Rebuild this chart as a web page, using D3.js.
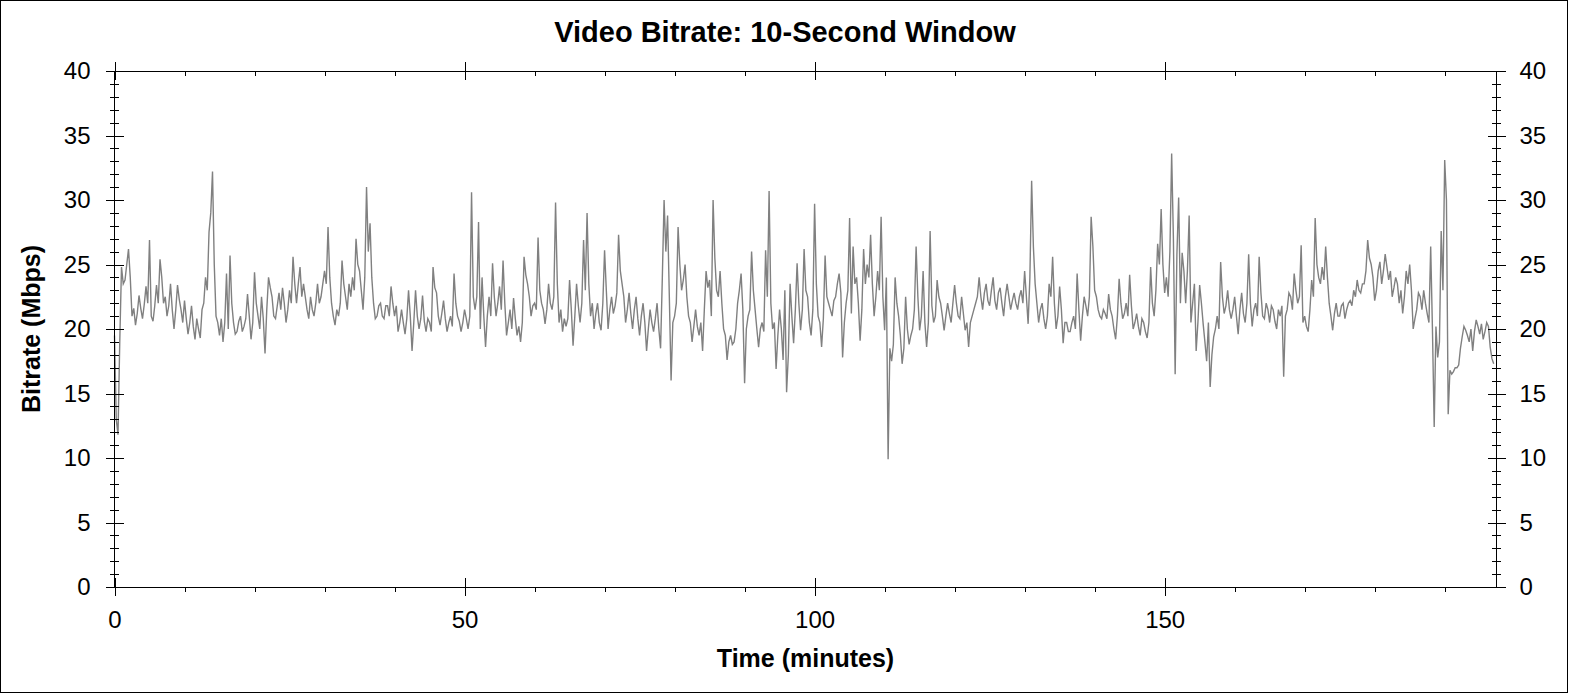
<!DOCTYPE html>
<html>
<head>
<meta charset="utf-8">
<script src="https://cdn.jsdelivr.net/npm/d3@7"></script>
<style>
html,body{margin:0;padding:0;background:#fff;}
svg{display:block;}
text{font-family:"Liberation Sans",Arial,sans-serif;fill:#000;}
</style>
</head>
<body>
<svg id="chart" width="1570" height="695"></svg>
<script>
// ---- data ----
const chartTitle = "Video Bitrate: 10-Second Window";
const xTitle = "Time (minutes)";
const yTitle = "Bitrate (Mbps)";
const sampleStartMin = 0;
const sampleStepMin = 0.5;
// bitrate at t = 0, 0.5, 1.0, ... minutes
const bitrateMbps = [
19.5,11.8,24.8,23.8,26.2,21.0,20.3,22.6,20.8,23.3,
26.9,20.6,23.4,25.4,22.0,21.0,23.5,20.0,23.4,21.5,
22.2,19.6,21.8,19.2,20.0,21.5,24.0,27.5,32.2,21.0,
19.5,19.0,24.3,25.7,20.5,19.8,21.0,20.2,22.7,19.2,
24.4,21.0,22.5,18.1,24.0,22.5,20.8,22.8,23.2,20.5,
23.0,25.6,22.0,24.8,23.5,21.5,22.5,21.0,23.5,22.5,
24.5,27.9,22.0,20.3,21.0,25.3,22.5,23.5,24.0,27.0,
24.5,21.5,31.0,28.2,22.0,21.0,22.0,20.8,21.8,23.3,
21.0,19.8,21.5,19.6,23.0,18.3,23.0,20.0,22.6,19.8,
20.5,24.8,22.8,20.3,22.2,19.8,21.0,24.3,21.0,19.8,
21.5,20.0,30.6,21.5,28.3,24.0,18.6,22.5,25.1,21.0,
23.3,25.3,19.5,21.5,22.4,19.5,19.0,25.6,23.5,21.0,
22.0,27.1,22.0,20.4,23.5,21.5,29.8,20.5,19.8,20.2,
23.8,18.7,23.5,20.5,26.9,29.0,21.0,20.0,22.0,19.9,
26.1,20.0,22.5,21.8,27.3,23.5,20.5,22.8,20.0,22.5,
19.5,22.0,18.3,21.5,19.8,22.0,18.5,30.0,28.8,16.0,
21.0,27.9,23.0,25.0,21.0,19.0,21.5,19.5,18.3,24.5,
23.8,30.0,23.0,24.5,20.0,17.6,19.5,19.0,22.0,24.3,
15.8,21.0,26.0,21.5,18.6,20.5,26.1,30.7,20.0,16.9,
21.5,17.6,15.1,23.5,18.9,25.1,19.9,26.2,22.5,19.5,
29.7,21.0,18.6,25.7,22.0,21.0,22.5,24.3,17.8,22.0,
28.6,26.4,24.0,19.1,26.2,25.0,27.3,21.0,24.5,28.7,
19.9,9.9,17.5,24.0,21.0,17.3,22.5,18.8,20.0,26.4,
19.9,24.5,18.6,27.6,20.5,23.8,22.0,19.9,22.0,20.5,
23.4,21.0,22.5,19.9,18.6,21.0,22.0,24.0,21.5,23.5,
21.8,24.0,21.5,23.2,21.0,23.5,21.5,22.8,21.5,23.0,
24.5,20.4,31.5,23.5,20.5,22.0,20.0,23.5,25.6,20.0,
23.3,18.9,20.5,19.8,21.0,24.3,19.1,22.5,21.0,28.7,
23.0,21.5,20.8,21.2,22.7,21.0,19.2,23.9,20.8,22.0,
24.2,20.0,21.2,19.5,20.5,19.3,24.8,21.0,26.6,29.3,
22.8,22.5,33.6,16.5,30.2,25.9,22.0,28.8,22.0,18.3,
23.4,20.4,17.5,15.5,19.4,21.0,25.2,21.2,23.0,20.8,
22.5,19.6,22.8,20.5,25.8,20.2,22.0,25.6,21.0,22.0,
20.5,21.5,20.0,21.0,16.3,21.5,22.5,24.3,22.0,26.5,
21.0,19.8,23.8,28.6,24.0,24.8,26.4,22.0,19.9,22.0,
21.0,22.0,21.5,22.2,23.0,23.8,22.8,23.5,26.9,25.0,
22.2,24.5,23.5,25.8,23.8,22.5,24.0,22.0,21.2,24.5,
25.0,20.0,21.5,22.5,23.0,21.2,26.4,12.4,17.8,27.6,
33.1,13.4,16.5,17.0,17.2,19.4,19.9,19.0,18.3,20.7,
19.6,19.2,20.5,18.6,17.3
];
// bitrate at the in-between samples t = 0.25, 0.75, 1.25, ... minutes
const bitrateMidMbps = [
13.0,19.0,23.5,25.0,24.0,21.6,21.2,21.6,21.9,22.0,
21.0,21.8,22.0,24.0,22.5,21.8,21.5,21.5,22.3,20.5,
20.8,20.5,20.2,20.8,19.3,22.0,23.0,29.0,25.0,20.5,
20.8,20.5,20.0,22.0,19.6,20.6,19.8,20.8,21.0,20.5,
22.0,20.0,20.8,21.5,23.2,21.0,21.8,21.5,22.0,21.5,
22.0,23.5,23.5,22.5,22.5,20.8,21.5,22.0,22.0,23.5,
23.5,24.0,21.0,21.5,22.0,23.5,21.5,22.5,23.0,25.0,
23.0,24.0,26.0,24.0,20.8,21.8,21.0,21.8,21.0,22.0,
21.8,20.5,20.5,20.8,21.0,20.5,21.0,20.8,20.6,20.8,
19.8,23.2,21.0,21.2,20.8,20.5,20.2,22.0,20.6,20.5,
20.8,21.0,22.5,22.5,20.0,21.0,21.0,21.0,22.5,22.0,
21.5,22.0,20.5,20.0,20.8,20.2,20.5,24.2,22.5,21.8,
21.5,23.0,21.5,21.5,22.0,22.5,23.5,21.5,20.8,20.8,
21.5,21.0,21.8,22.0,23.0,23.5,22.0,21.2,20.5,22.0,
23.0,21.5,21.2,22.8,24.5,22.5,21.5,21.2,21.5,20.8,
21.0,20.5,20.0,20.5,20.8,20.0,24.0,26.0,22.5,20.5,
22.0,25.0,23.8,22.5,20.5,20.2,20.2,20.5,21.5,23.2,
21.0,25.5,22.5,22.0,19.5,19.0,18.8,20.0,23.0,21.5,
20.0,21.5,23.0,20.0,20.0,19.8,22.5,22.0,20.5,19.5,
20.0,23.0,18.0,21.0,21.5,22.0,21.5,23.0,20.5,21.5,
23.5,20.5,20.8,22.5,21.5,22.2,23.5,22.8,20.5,23.0,
21.2,23.5,22.0,21.5,23.5,24.0,23.5,22.5,23.0,22.5,
24.0,18.5,18.8,22.0,19.5,18.5,20.0,19.5,21.5,22.5,
21.0,20.5,20.5,21.8,21.0,22.5,21.0,21.0,21.2,22.0,
22.0,20.8,21.2,20.5,20.5,21.5,22.5,22.5,22.8,22.2,
23.0,22.2,22.8,22.0,22.5,22.5,22.2,22.0,22.5,22.0,
22.5,24.0,26.4,22.0,21.5,20.8,21.0,22.5,22.0,21.0,
21.5,20.5,19.8,20.5,20.0,21.5,21.0,21.8,22.5,26.4,
22.5,21.0,21.5,20.8,21.5,20.0,21.0,22.0,21.2,21.0,
21.8,20.5,20.2,20.8,19.8,20.5,22.0,23.0,25.0,25.0,
24.0,26.0,27.0,25.8,22.0,24.5,24.5,20.5,23.5,20.5,
22.0,19.0,20.5,18.0,20.0,20.0,22.5,21.8,21.5,21.5,
21.0,21.5,21.2,22.0,22.0,21.5,21.0,22.8,20.8,21.5,
21.8,20.6,21.5,21.8,21.0,22.8,21.5,23.0,22.5,20.5,
20.2,21.5,22.5,25.0,23.5,23.8,24.0,21.0,21.2,21.0,
21.8,20.8,22.0,21.8,22.5,23.0,23.5,24.5,25.5,24.0,
23.0,25.2,24.5,24.8,24.5,23.2,23.5,23.0,22.5,23.5,
23.0,20.8,22.8,21.5,22.0,20.5,20.0,20.2,19.0,23.0,
30.0,16.8,16.7,17.0,18.5,20.2,19.5,20.0,19.8,20.2,
20.4,19.8,20.2,17.7
];
const xDomain = [0, 197.4];
const yDomain = [0, 40];
const xMajorTicks = [0, 50, 100, 150];
const xMinorTicks = [10, 20, 30, 40, 60, 70, 80, 90, 110, 120, 130, 140, 160, 170, 180, 190];
const yMajorTicks = [0, 5, 10, 15, 20, 25, 30, 35, 40];
const yMinorTicks = [1,2,3,4,6,7,8,9,11,12,13,14,16,17,18,19,21,22,23,24,26,27,28,29,31,32,33,34,36,37,38,39];

// ---- layout ----
const L = 114.5, R = 1496.5, T = 71, B = 587;
const svg = d3.select("#chart");
const x = d3.scaleLinear().domain(xDomain).range([L, R]);
const y = d3.scaleLinear().domain(yDomain).range([B, T]);

// outer border
svg.append("rect").attr("x", 0.5).attr("y", 0.5).attr("width", 1567).attr("height", 692)
  .attr("fill", "#fff").attr("stroke", "#000").attr("stroke-width", 1);

// data line (merge the two sample arrays in time order)
const pts = [];
bitrateMbps.forEach((v, i) => {
  const t = sampleStartMin + i * sampleStepMin;
  pts.push({t, v});
  if (i < bitrateMidMbps.length) pts.push({t: t + sampleStepMin / 2, v: bitrateMidMbps[i]});
});
svg.append("path").datum(pts)
  .attr("fill", "none").attr("stroke", "#808080").attr("stroke-width", 1.4)
  .attr("d", d3.line().x(d => x(d.t)).y(d => y(d.v)));

// frame
svg.append("rect").attr("x", L).attr("y", T).attr("width", R - L).attr("height", B - T)
  .attr("fill", "none").attr("stroke", "#000").attr("stroke-width", 1).attr("shape-rendering", "crispEdges");

function styleAxis(g, noText) {
  g.select(".domain").remove();
  g.selectAll(".tick line").attr("stroke", "#000").attr("shape-rendering", "crispEdges");
  g.selectAll("text").style("font-size", "24px").style("font-family", '"Liberation Sans",Arial,sans-serif').attr("fill", "#000");
  if (noText) g.selectAll("text").remove();
}

// Y left
svg.append("g").attr("transform", `translate(${L},0)`)
  .call(d3.axisLeft(y).tickValues(yMajorTicks).tickSize(9).tickPadding(15).tickFormat(d3.format("d")))
  .call(g => styleAxis(g));
svg.append("g").attr("transform", `translate(${L},0)`)
  .call(d3.axisRight(y).tickValues(yMajorTicks).tickSize(9)).call(g => styleAxis(g, true));
svg.append("g").attr("transform", `translate(${L},0)`)
  .call(d3.axisLeft(y).tickValues(yMinorTicks).tickSize(4.5)).call(g => styleAxis(g, true));
svg.append("g").attr("transform", `translate(${L},0)`)
  .call(d3.axisRight(y).tickValues(yMinorTicks).tickSize(4.5)).call(g => styleAxis(g, true));

// Y right
svg.append("g").attr("transform", `translate(${R},0)`)
  .call(d3.axisRight(y).tickValues(yMajorTicks).tickSize(9).tickPadding(14).tickFormat(d3.format("d")))
  .call(g => styleAxis(g));
svg.append("g").attr("transform", `translate(${R},0)`)
  .call(d3.axisLeft(y).tickValues(yMajorTicks).tickSize(9)).call(g => styleAxis(g, true));
svg.append("g").attr("transform", `translate(${R},0)`)
  .call(d3.axisRight(y).tickValues(yMinorTicks).tickSize(4.5)).call(g => styleAxis(g, true));
svg.append("g").attr("transform", `translate(${R},0)`)
  .call(d3.axisLeft(y).tickValues(yMinorTicks).tickSize(4.5)).call(g => styleAxis(g, true));

// X bottom
svg.append("g").attr("transform", `translate(0,${B})`)
  .call(d3.axisBottom(x).tickValues(xMajorTicks).tickSize(9).tickPadding(15).tickFormat(d3.format("d")))
  .call(g => styleAxis(g));
svg.append("g").attr("transform", `translate(0,${B})`)
  .call(d3.axisTop(x).tickValues(xMajorTicks).tickSize(9)).call(g => styleAxis(g, true));
svg.append("g").attr("transform", `translate(0,${B})`)
  .call(d3.axisBottom(x).tickValues(xMinorTicks).tickSize(4.5)).call(g => styleAxis(g, true));

// X top
svg.append("g").attr("transform", `translate(0,${T})`)
  .call(d3.axisBottom(x).tickValues(xMajorTicks).tickSize(9)).call(g => styleAxis(g, true));
svg.append("g").attr("transform", `translate(0,${T})`)
  .call(d3.axisTop(x).tickValues(xMajorTicks).tickSize(9)).call(g => styleAxis(g, true));
svg.append("g").attr("transform", `translate(0,${T})`)
  .call(d3.axisBottom(x).tickValues(xMinorTicks).tickSize(5)).call(g => styleAxis(g, true));

// titles
svg.append("text").attr("x", 785).attr("y", 42).attr("text-anchor", "middle")
  .style("font-size", "29px").style("font-weight", "bold").text(chartTitle);
svg.append("text").attr("x", (L + R) / 2).attr("y", 667).attr("text-anchor", "middle")
  .style("font-size", "25px").style("font-weight", "bold").text(xTitle);
svg.append("text").attr("transform", `translate(40,${(T + B) / 2}) rotate(-90)`).attr("text-anchor", "middle")
  .style("font-size", "25px").style("font-weight", "bold").text(yTitle);
</script>
</body>
</html>
